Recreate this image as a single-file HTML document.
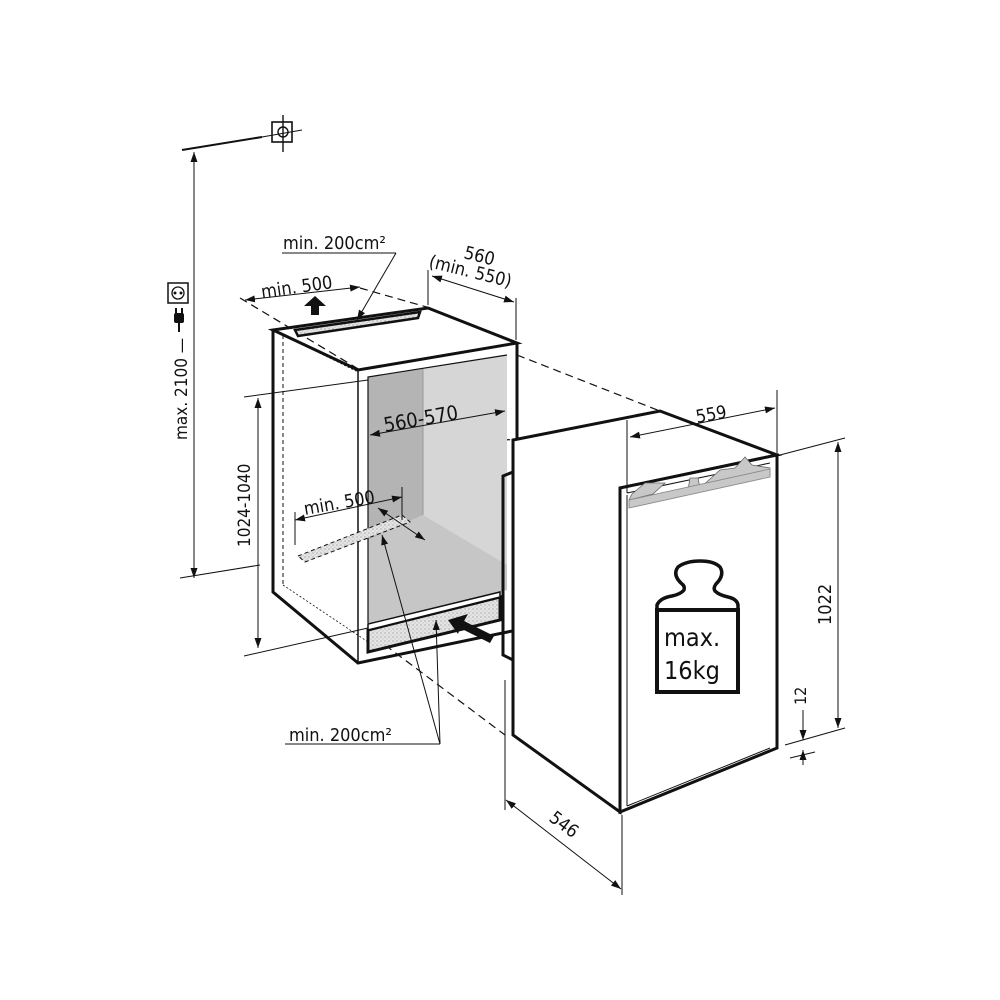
<!DOCTYPE html>
<html><head><style>
html,body{margin:0;padding:0;background:#fff}
svg{display:block}
text{font-family:"DejaVu Sans Condensed","DejaVu Sans","Liberation Sans",sans-serif;font-stretch:condensed;fill:#111}
</style></head><body>
<svg width="1000" height="1000" viewBox="0 0 1000 1000" xmlns="http://www.w3.org/2000/svg">
<defs>
<marker id="a" viewBox="0 0 10 10" refX="10" refY="5" markerWidth="10" markerHeight="10" orient="auto-start-reverse" markerUnits="userSpaceOnUse"><path d="M0,1.5 L10,5 L0,8.5 z" fill="#111"/></marker>
<pattern id="dots" width="4" height="4" patternUnits="userSpaceOnUse"><rect width="4" height="4" fill="#e4e4e4"/><circle cx="1" cy="1" r="0.6" fill="#888"/><circle cx="3" cy="3" r="0.5" fill="#aaa"/></pattern>
</defs>
<g stroke="#111" fill="none">
<line x1="182" y1="150" x2="262" y2="137" stroke-width="2"/>
<line x1="262" y1="137" x2="302" y2="130" stroke-width="1"/>
<rect x="272" y="122" width="20" height="20" stroke-width="1.6"/>
<circle cx="283" cy="132" r="5" stroke-width="1.4"/>
<line x1="283" y1="115" x2="283" y2="152" stroke-width="1.4"/>
<line x1="194" y1="152" x2="194" y2="578" stroke-width="1" marker-start="url(#a)" marker-end="url(#a)"/>
<line x1="180" y1="578" x2="260" y2="565" stroke-width="1"/>
<rect x="168" y="283" width="20" height="20" stroke-width="1.5"/>
<circle cx="178" cy="293" r="6" stroke-width="1.3"/>
<line x1="258" y1="398" x2="258" y2="648" stroke-width="1" marker-start="url(#a)" marker-end="url(#a)"/>
<line x1="244" y1="397" x2="368" y2="380" stroke-width="1"/>
<line x1="244" y1="656" x2="368" y2="628" stroke-width="1"/>
<g stroke-dasharray="8,5" stroke-width="1.2">
<line x1="240" y1="298" x2="360" y2="370"/>
<line x1="360" y1="288" x2="430" y2="308"/>
<line x1="517" y1="355" x2="660" y2="411"/>
<line x1="410" y1="430" x2="510" y2="440"/>
<line x1="385" y1="645" x2="505" y2="735"/>
<line x1="400" y1="395" x2="510" y2="440" stroke-dasharray="5,4"/>
</g>
<line x1="283" y1="335" x2="283" y2="585" stroke-dasharray="4,3" stroke-width="1"/>
<line x1="283" y1="585" x2="380" y2="650" stroke-dasharray="2,2" stroke-width="0.8"/>
<line x1="283" y1="335" x2="358" y2="372" stroke-dasharray="2,2" stroke-width="0.8"/>
</g>
<polygon points="368,377 507,355 507,590 368,623" fill="#d6d6d6"/>
<polygon points="368,377 423,369 423,515 368,540" fill="#b4b4b4"/>
<polygon points="368,540 423,515 507,565 507,590 368,623" fill="#c6c6c6"/>
<line x1="423" y1="369" x2="423" y2="515" stroke="#999" stroke-width="1"/>
<g stroke="#111" fill="none" stroke-width="3">
<polygon points="273,330 428,308 517,343 358,370"/>
<polyline points="273,330 273,592 358,663 517,630"/>
<line x1="358" y1="370" x2="358" y2="663" stroke-width="1.5"/>
<line x1="517" y1="343" x2="517" y2="440"/>
<polyline points="368,623 368,377 507,355" stroke-width="1.2"/>
</g>
<polygon points="295,330 420,312 418,318 298,336" fill="url(#dots)" stroke="#111" stroke-width="2.5"/>
<polygon points="311,315 319,315 319,306 326,306 315,296 304,306 311,306" fill="#111"/>
<polygon points="368,630 500,597 500,620 368,652" fill="url(#dots)" stroke="#111" stroke-width="3"/>
<polygon points="368,624 500,592 500,597 368,630" fill="#fff" stroke="#111" stroke-width="1.5"/>
<polygon points="490,643 460,628 458,634 448,620 468,614 464,621 494,636" fill="#111"/>
<polygon points="298,556 402,515 410,522 305,562" fill="url(#dots)" stroke="#111" stroke-width="1" stroke-dasharray="4,3"/>
<g stroke="#111" fill="none" stroke-width="1">
<line x1="245" y1="300" x2="360" y2="287" marker-start="url(#a)" marker-end="url(#a)"/>
<line x1="282" y1="253" x2="396" y2="253"/>
<line x1="396" y1="253" x2="357" y2="320" marker-end="url(#a)"/>
<line x1="428" y1="270" x2="428" y2="305"/>
<line x1="516" y1="298" x2="516" y2="340"/>
<line x1="432" y1="276" x2="514" y2="302" marker-start="url(#a)" marker-end="url(#a)"/>
<line x1="370" y1="435" x2="505" y2="411" marker-start="url(#a)" marker-end="url(#a)"/>
<line x1="295" y1="520" x2="402" y2="497" marker-start="url(#a)" marker-end="url(#a)"/>
<line x1="295" y1="512" x2="295" y2="545"/>
<line x1="402" y1="487" x2="402" y2="520"/>
<line x1="378" y1="508" x2="425" y2="540" marker-start="url(#a)" marker-end="url(#a)"/>
<line x1="285" y1="744" x2="440" y2="744"/>
<line x1="440" y1="744" x2="382" y2="535" marker-end="url(#a)"/>
<line x1="440" y1="744" x2="436" y2="620" marker-end="url(#a)"/>
</g>
<g stroke="#111" fill="#fff" stroke-width="3">
<polygon points="513,440 660,411 777,455 620,488 620,812 513,735"/>
<polygon points="620,488 777,455 777,748 620,812"/>
</g>
<polyline points="513,472 503,476 503,655 513,660" fill="none" stroke="#111" stroke-width="3"/>
<g stroke="#111" fill="none" stroke-width="1">
<line x1="627" y1="495" x2="627" y2="806"/>
<polyline points="627,806 770,748"/>
<line x1="627" y1="493" x2="770" y2="463"/>
</g>
<polygon points="629,500 653,494 665,483 645,483 632,494 629,500 629,507 770,476 770,468 752,465 745,457 735,468 720,470 700,488 698,478 690,478 688,490 660,495" fill="#c8c8c8" stroke="#666" stroke-width="0.8"/>
<polygon points="629,508 770,477 770,469 629,500" fill="#c8c8c8" stroke="#888" stroke-width="0.8"/>
<path d="M657,610 L657,605 Q660,598 672,596 Q681,594 684,590 Q685,586 682,584 Q672,575 678,567 Q686,561 700,561 Q714,561 720,567 Q725,575 716,584 Q713,588 715,591 Q719,595 728,597 Q737,599 738,605 L738,610" fill="none" stroke="#111" stroke-width="3.5"/>
<rect x="657" y="610" width="81" height="82" fill="#fff" stroke="#111" stroke-width="4"/>
<text x="664" y="646" font-size="25">max.</text>
<text x="664" y="679" font-size="25">16kg</text>
<g stroke="#111" fill="none" stroke-width="1">
<line x1="627" y1="420" x2="627" y2="493"/>
<line x1="777" y1="390" x2="777" y2="453"/>
<line x1="630" y1="437" x2="775" y2="408" marker-start="url(#a)" marker-end="url(#a)"/>
<line x1="780" y1="455" x2="845" y2="438"/>
<line x1="838" y1="442" x2="838" y2="728" marker-start="url(#a)" marker-end="url(#a)"/>
<line x1="785" y1="745" x2="845" y2="728"/>
<line x1="790" y1="758" x2="815" y2="752"/>
<line x1="803" y1="710" x2="803" y2="740" marker-end="url(#a)"/>
<line x1="803" y1="765" x2="803" y2="750" marker-end="url(#a)"/>
<line x1="505" y1="680" x2="505" y2="810"/>
<line x1="622" y1="815" x2="622" y2="895"/>
<line x1="506" y1="800" x2="621" y2="889" marker-start="url(#a)" marker-end="url(#a)"/>
</g>
<text x="283" y="249" font-size="18">min. 200cm²</text>
<text x="262" y="298" font-size="18" transform="rotate(-8 262 298)">min. 500</text>
<text x="463" y="258" font-size="18" transform="rotate(14 463 258)">560</text>
<text x="428" y="267" font-size="18" transform="rotate(14 428 267)">(min. 550)</text>
<text x="385" y="432" font-size="20" transform="rotate(-10 385 432)">560-570</text>
<text x="305" y="515" font-size="18" transform="rotate(-10 305 515)">min. 500</text>
<text x="289" y="741" font-size="18">min. 200cm²</text>
<text x="697" y="423" font-size="18" transform="rotate(-10 697 423)">559</text>
<text x="548" y="820" font-size="18" transform="rotate(37 548 820)">546</text>
<text x="831" y="625" font-size="18" transform="rotate(-90 831 625)">1022</text>
<text x="806" y="705" font-size="16" transform="rotate(-90 806 705)">12</text>
<text x="187" y="440" font-size="17" transform="rotate(-90 187 440)">max. 2100 —</text>
<text x="250" y="547" font-size="17" transform="rotate(-90 250 547)">1024-1040</text>
<g fill="#111"><rect x="174" y="313" width="10" height="10" rx="2"/><rect x="175" y="308" width="2" height="6"/><rect x="181" y="308" width="2" height="6"/><rect x="178" y="322" width="2" height="10"/></g>
<circle cx="175" cy="293" r="1.5" fill="#111"/><circle cx="181" cy="293" r="1.5" fill="#111"/>
</svg>
</body></html>
